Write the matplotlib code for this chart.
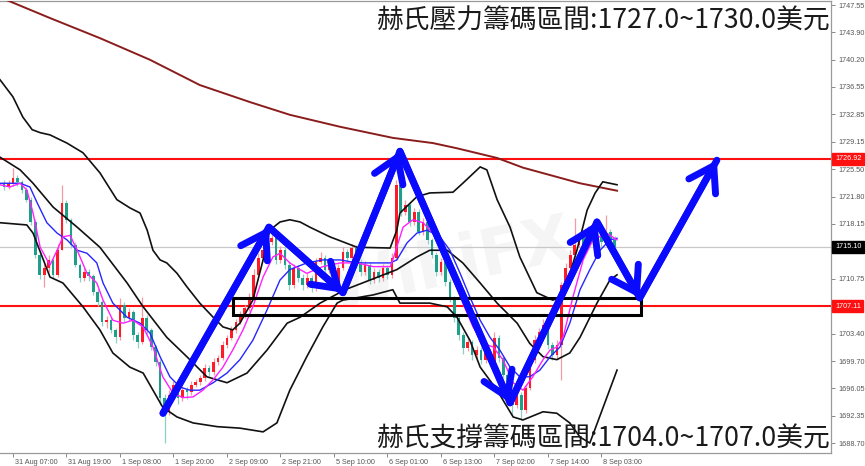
import matplotlib
matplotlib.use("Agg")
import numpy as np
import matplotlib.pyplot as plt
import matplotlib.transforms as mtransforms
from matplotlib.patches import Rectangle

# ── Hourly candles (bar index = position on the chart) ──────────
FIRST_OPEN = 1723.6
CLOSES = [
    1723.1, 1723.6, 1724.3, 1723.8, 1722.7, 1721.4, 1718.4, 1714.0, 1711.3, 1712.2,
    1713.3, 1711.3, 1714.6, 1721.0, 1718.7, 1715.3, 1712.6, 1710.9, 1711.7, 1711.1,
    1709.0, 1707.6, 1705.0, 1705.2, 1703.9, 1702.9, 1707.2, 1705.5, 1706.3, 1703.2,
    1702.3, 1705.5, 1703.9, 1701.6, 1699.6, 1694.8, 1692.9, 1695.2, 1696.5, 1694.8,
    1695.8, 1695.6, 1696.5, 1696.9, 1697.4, 1698.8, 1698.2, 1699.6, 1700.1, 1701.9,
    1702.8, 1703.9, 1705.0, 1705.9, 1706.8, 1708.2, 1711.3, 1713.6, 1714.6, 1715.7,
    1716.2, 1713.3, 1714.6, 1712.6, 1709.9, 1712.2, 1710.9, 1709.9, 1710.9, 1709.5,
    1713.0, 1713.6, 1712.0, 1712.6, 1709.9, 1712.2, 1714.4, 1713.6, 1714.9, 1713.0,
    1711.7, 1712.6, 1710.6, 1711.7, 1710.9, 1712.2, 1711.3, 1713.6, 1723.4, 1719.7,
    1720.7, 1718.4, 1719.7, 1717.1, 1718.4, 1716.0, 1714.0, 1711.7, 1713.0, 1710.3,
    1708.2, 1705.5, 1703.2, 1701.5, 1702.3, 1700.5, 1701.2, 1699.9, 1700.9, 1699.6,
    1702.8, 1700.1, 1697.8, 1695.6, 1693.8, 1695.2, 1693.1, 1696.1, 1699.9, 1702.5,
    1703.6, 1704.6, 1701.9, 1700.5, 1701.9, 1709.9, 1712.2, 1714.0, 1715.3, 1716.2,
    1715.3, 1717.1, 1716.0, 1716.6, 1715.7, 1717.1, 1716.0, 1715.1,
]
UPPER_WICK = [
    0.4, 0.5, 1.3, 0.4, 0.3, 0.4, 0.3, 0.4, 0.3, 0.5,
    0.6, 0.3, 0.8, 2.4, 0.4, 0.3, 0.4, 0.3, 0.5, 0.4,
    0.3, 0.4, 0.3, 0.6, 0.4, 0.3, 1.0, 0.4, 0.6, 0.3,
    0.4, 2.8, 0.4, 0.3, 0.3, 0.4, 0.5, 0.6, 0.5, 0.4,
    0.5, 0.4, 0.5, 0.4, 0.5, 0.5, 0.4, 0.5, 0.4, 0.5,
    0.4, 0.5, 0.4, 0.5, 0.4, 0.6, 0.8, 0.6, 0.5, 0.6,
    0.8, 0.5, 0.6, 0.4, 0.5, 0.6, 0.4, 0.5, 0.6, 0.4,
    0.6, 0.7, 0.4, 0.5, 0.4, 0.6, 0.7, 0.4, 0.6, 0.4,
    0.4, 0.5, 0.4, 0.5, 0.4, 0.6, 0.4, 0.6, 0.6, 0.5,
    0.6, 0.4, 0.6, 0.4, 0.5, 0.4, 0.3, 0.4, 0.6, 0.3,
    0.4, 0.3, 0.4, 0.4, 0.6, 0.3, 0.5, 0.4, 0.6, 0.4,
    0.8, 0.4, 0.3, 0.4, 0.3, 0.6, 0.4, 0.5, 0.6, 0.7,
    0.6, 0.8, 0.4, 0.4, 0.6, 0.5, 0.7, 0.6, 3.6, 0.8,
    0.5, 0.7, 0.4, 0.6, 0.4, 2.2, 0.4, 0.5,
]
LOWER_WICK = [
    0.4, 0.3, 0.4, 0.5, 0.4, 0.3, 0.4, 0.5, 0.6, 1.6,
    0.5, 0.4, 0.3, 0.0, 0.4, 0.4, 0.3, 0.5, 0.4, 0.6,
    0.4, 0.5, 0.6, 0.8, 0.4, 0.8, 0.3, 0.5, 0.4, 0.6,
    0.8, 0.3, 0.5, 0.4, 0.5, 1.0, 4.2, 0.5, 0.4, 0.8,
    0.4, 1.0, 0.4, 0.3, 0.4, 0.3, 0.5, 0.3, 0.4, 0.3,
    0.4, 0.3, 0.4, 0.3, 0.4, 0.3, 0.4, 0.3, 0.4, 0.3,
    0.4, 0.6, 0.4, 0.5, 0.6, 0.4, 0.5, 0.6, 0.4, 0.5,
    0.4, 0.3, 0.6, 0.4, 0.6, 0.4, 0.3, 0.5, 0.4, 0.5,
    0.5, 0.4, 0.6, 0.4, 0.5, 0.4, 0.5, 0.4, 0.3, 0.5,
    0.4, 0.5, 0.4, 0.5, 0.4, 0.5, 0.4, 0.6, 0.4, 0.5,
    0.6, 0.5, 0.6, 0.8, 0.4, 0.6, 0.5, 0.6, 0.4, 0.6,
    1.5, 0.5, 0.4, 0.5, 1.3, 0.4, 1.3, 0.4, 0.3, 0.4,
    0.3, 0.4, 0.5, 0.6, 0.5, 4.7, 0.4, 0.3, 0.4, 0.3,
    0.5, 0.4, 0.5, 0.4, 0.6, 0.4, 0.5, 0.4,
]

# ── Indicators as (bar, price) ─────────────────────────────────
MA_LONG = [(-0.9, 1748.6), (0.65, 1748.2), (10.3, 1745.8), (21.5, 1743.1), (32.7, 1740.2),
           (43.9, 1736.8), (55.2, 1734.5), (64.1, 1732.8), (75.3, 1731.2), (87.2, 1729.7),
           (96.2, 1729.0), (101.6, 1728.3), (110.6, 1727.0), (116.4, 1725.7),
           (129.2, 1723.6), (137.5, 1722.6)]
BB_UPPER = [(-0.9, 1737.5), (2.0, 1735.2), (4.2, 1732.5), (6.3, 1730.8), (8.1, 1730.4),
            (10.3, 1730.1), (14.1, 1729.0), (17.7, 1727.7), (21.5, 1725.0), (25.3, 1721.4),
            (28.2, 1720.3), (30.5, 1719.6), (32.1, 1717.3), (33.4, 1714.6), (35.0, 1713.3),
            (36.5, 1712.9), (38.8, 1711.5), (41.0, 1709.7), (43.9, 1707.5), (46.9, 1705.6),
            (49.1, 1704.3), (51.3, 1703.9), (52.9, 1704.8), (55.8, 1707.9), (58.1, 1713.3),
            (59.6, 1717.3), (61.9, 1718.4), (64.1, 1718.7), (66.4, 1718.4), (68.6, 1717.7),
            (73.1, 1716.4), (79.2, 1715.0), (86.6, 1714.9), (88.1, 1717.3), (88.8, 1719.6),
            (92.6, 1721.8), (95.5, 1722.3), (100.7, 1722.4), (102.9, 1723.6), (106.8, 1725.8),
            (108.3, 1725.4), (110.6, 1721.4), (113.5, 1717.7), (115.7, 1713.7), (119.5, 1708.9),
            (123.1, 1707.9), (124.7, 1708.3), (126.3, 1710.2), (128.5, 1714.6), (130.8, 1720.0),
            (132.6, 1722.3), (134.3, 1723.8), (137.5, 1723.4)]
BB_MIDDLE = [(-0.9, 1727.1), (3.6, 1725.4), (6.5, 1723.6), (11.0, 1720.4), (16.4, 1717.7),
             (21.5, 1715.0), (27.6, 1710.2), (31.2, 1707.0), (36.5, 1702.9), (41.0, 1700.3),
             (45.5, 1697.6), (50.0, 1696.8), (54.5, 1698.1), (59.0, 1701.2), (63.5, 1704.8),
             (66.4, 1705.6), (70.9, 1707.5), (76.5, 1709.3), (82.1, 1710.6), (88.1, 1712.0),
             (92.6, 1713.7), (95.5, 1714.6), (99.4, 1714.6), (102.9, 1712.9), (106.8, 1710.2),
             (110.6, 1707.5), (115.1, 1704.8), (117.9, 1702.1), (120.9, 1700.3), (124.0, 1699.9),
             (126.9, 1700.8), (129.2, 1702.9), (133.0, 1707.5), (135.9, 1710.6), (137.5, 1711.3)]
BB_LOWER = [(-0.9, 1718.3), (5.1, 1718.0), (6.5, 1716.9), (10.3, 1711.0), (13.2, 1710.2),
            (17.7, 1707.0), (21.5, 1703.9), (24.4, 1700.8), (28.2, 1698.9), (31.2, 1698.1),
            (33.4, 1695.8), (35.6, 1693.5), (38.8, 1692.2), (42.4, 1691.4), (47.8, 1690.9),
            (52.9, 1690.7), (58.1, 1690.2), (61.2, 1691.4), (64.1, 1695.8), (67.9, 1700.3),
            (71.5, 1704.3), (74.7, 1707.5), (76.0, 1707.9), (82.8, 1708.6), (87.2, 1709.3),
            (88.8, 1707.5), (95.5, 1707.5), (99.4, 1707.0), (101.6, 1705.6), (104.5, 1702.5),
            (106.8, 1698.9), (110.6, 1695.8), (114.2, 1692.2), (116.4, 1691.8), (120.9, 1692.9),
            (124.0, 1692.7), (126.9, 1691.4), (129.2, 1689.5), (131.4, 1688.7), (137.5, 1698.5)]
MA_FAST = [(-0.9, 1723.4), (1.3, 1723.1), (3.6, 1723.6), (5.1, 1722.7), (6.5, 1719.6),
           (8.1, 1715.0), (10.3, 1712.6), (11.9, 1714.6), (13.2, 1716.4), (14.8, 1716.6),
           (16.4, 1714.6), (18.6, 1711.5), (20.8, 1710.2), (22.2, 1707.9), (24.4, 1705.2),
           (26.7, 1704.8), (28.9, 1705.2), (31.2, 1704.3), (33.4, 1701.6), (35.6, 1697.6),
           (37.9, 1695.4), (40.1, 1694.8), (42.4, 1694.9), (44.6, 1695.8), (46.9, 1697.2),
           (49.1, 1698.9), (51.3, 1701.2), (53.6, 1703.9), (55.8, 1707.0), (58.1, 1711.0),
           (60.3, 1713.7), (61.9, 1714.2), (64.1, 1712.9), (66.4, 1712.0), (67.9, 1711.5),
           (71.5, 1712.4), (75.4, 1712.9), (79.2, 1712.9), (82.8, 1712.4), (86.6, 1712.4),
           (87.2, 1713.3), (89.5, 1717.7), (91.7, 1718.7), (94.0, 1718.3), (96.2, 1716.9),
           (98.5, 1714.2), (100.7, 1711.0), (102.9, 1707.5), (105.2, 1704.3), (107.4, 1702.1),
           (109.7, 1701.6), (111.9, 1699.9), (114.2, 1696.8), (116.4, 1695.8), (118.6, 1697.6),
           (120.9, 1699.9), (122.5, 1701.2), (124.0, 1701.6), (125.4, 1702.9), (127.6, 1708.3),
           (129.9, 1713.3), (132.1, 1716.0), (135.2, 1716.9), (137.5, 1716.0)]
MA_SLOW = [(-0.9, 1723.6), (3.6, 1723.6), (5.8, 1723.1), (7.4, 1721.0), (9.6, 1718.3),
           (11.9, 1716.9), (14.1, 1716.0), (16.4, 1714.6), (18.6, 1714.2), (20.8, 1712.9),
           (22.2, 1710.2), (24.4, 1707.5), (27.6, 1705.6), (30.5, 1704.8), (32.7, 1703.5),
           (35.0, 1700.3), (37.2, 1697.6), (39.5, 1696.2), (41.7, 1695.8), (43.9, 1695.8),
           (46.9, 1696.8), (50.0, 1698.1), (52.9, 1699.9), (55.8, 1702.5), (59.0, 1706.6),
           (61.9, 1710.6), (64.1, 1712.0), (67.9, 1712.9), (71.5, 1713.3), (75.4, 1713.3),
           (79.2, 1712.9), (86.6, 1712.9), (88.1, 1713.3), (90.4, 1715.6), (92.6, 1716.9),
           (94.9, 1717.3), (97.8, 1716.4), (100.0, 1714.6), (102.3, 1711.5), (104.5, 1708.3),
           (106.8, 1705.2), (109.0, 1702.9), (111.2, 1701.2), (113.5, 1698.9), (115.7, 1697.6),
           (117.9, 1697.6), (120.2, 1698.5), (122.5, 1700.3), (124.7, 1701.6), (126.9, 1704.8),
           (129.2, 1709.3), (131.4, 1712.0), (133.7, 1714.6), (135.9, 1716.0), (137.5, 1716.2)]

# ── Annotations ───────────────────────────────────────────────
RESIST_LEVEL = 1726.92
SUPPORT_LEVEL = 1707.11
LAST_PRICE = 1715.10
ZIGZAG = [(35.65, 1692.7), (59.4, 1717.7), (76.0, 1708.9), (88.8, 1727.9),
          (113.5, 1694.1), (133.0, 1718.4), (142.6, 1708.2), (159.9, 1726.7)]
ZONE_BARS = (51.35, 142.9)
ZONE_PRICES = (1705.9, 1708.2)
TEXT_TOP = "赫氏壓力籌碼區間:1727.0~1730.0美元"
TEXT_BOTTOM = "赫氏支撐籌碼區間:1704.0~1707.0美元"

# ── Axes labels ───────────────────────────────────────────────
Y_TICKS = [1747.55, 1743.90, 1740.20, 1736.55, 1732.85, 1729.15, 1725.50, 1721.80,
           1718.15, 1714.45, 1710.75, 1703.40, 1699.70, 1696.05, 1692.35, 1688.70]
X_TICK_BARS = [2, 14, 26, 38, 50, 62, 74, 86, 98, 110, 122, 134]
X_TICK_LABELS = ["31 Aug 07:00", "31 Aug 19:00", "1 Sep 08:00",
                 "1 Sep 20:00", "2 Sep 09:00", "2 Sep 21:00", "5 Sep 10:00",
                 "6 Sep 01:00", "6 Sep 13:00", "7 Sep 02:00", "7 Sep 14:00", "8 Sep 03:00"]

CJK = ["Noto Sans CJK TC", "DejaVu Sans"]
SMALL = ["Liberation Sans", "DejaVu Sans"]


def xy(points):
    return [p[0] for p in points], [p[1] for p in points]


fig = plt.figure(figsize=(8.65, 4.66), dpi=100)
ax = fig.add_axes([0.0, 13 / 466, 831 / 865, 452 / 466])

# levels
ax.axhline(LAST_PRICE, color="#c8c8c8", lw=0.9, zorder=1)
ax.axhline(RESIST_LEVEL, color="#ff1010", lw=1.5, zorder=1.2)
ax.axhline(SUPPORT_LEVEL, color="#ff1010", lw=1.5, zorder=1.2)

# watermark
ax.text(100, 1712.5, "WikiFX", fontsize=46, fontweight="bold", color="#e2e2e2",
        alpha=0.35, rotation=12, ha="center", va="center", zorder=0.5)

# candles
closes = np.array(CLOSES)
opens = np.r_[FIRST_OPEN, closes[:-1]]
bars = np.arange(len(closes))
highs = np.maximum(opens, closes) + np.array(UPPER_WICK)
lows = np.minimum(opens, closes) - np.array(LOWER_WICK)
up = closes >= opens
body_lo = np.minimum(opens, closes)
body_h = np.maximum(np.abs(closes - opens), 0.15)

ax.vlines(bars[up], lows[up], highs[up], colors="#f39aa3", lw=0.9, zorder=2)
ax.vlines(bars[~up], lows[~up], highs[~up], colors="#8fd0c6", lw=0.9, zorder=2)
ax.bar(bars[up], body_h[up], bottom=body_lo[up], width=0.6, color="#ff1a2a", lw=0, zorder=2.2)
ax.bar(bars[~up], body_h[~up], bottom=body_lo[~up], width=0.6, color="#1f9e8a", lw=0, zorder=2.2)

# indicators
ax.plot(*xy(MA_LONG), color="#8b1c1c", lw=1.4, zorder=3)
for band in (BB_UPPER, BB_MIDDLE, BB_LOWER):
    ax.plot(*xy(band), color="#111111", lw=1.2, zorder=3)
ax.plot(*xy(MA_SLOW), color="#2626ff", lw=1.0, zorder=3.2)
ax.plot(*xy(MA_FAST), color="#ff20ff", lw=1.0, zorder=3.3)

# zone box
ax.add_patch(Rectangle((ZONE_BARS[0], ZONE_PRICES[0]), ZONE_BARS[1] - ZONE_BARS[0],
                       ZONE_PRICES[1] - ZONE_PRICES[0], fill=False, ec="black",
                       lw=2.2, zorder=4))

# zigzag arrows
ax.plot(*xy(ZIGZAG), color="#0a0aff", lw=5, solid_capstyle="round",
        solid_joinstyle="round", zorder=5)
for start, end in zip(ZIGZAG[:-1], ZIGZAG[1:]):
    ax.annotate("", xy=end, xytext=start, zorder=5,
                arrowprops=dict(arrowstyle="->,head_length=0.85,head_width=0.55",
                                color="#0a0aff", lw=5, mutation_scale=20,
                                shrinkA=0, shrinkB=0))

# headline texts
ax.text(0.999, 0.956, TEXT_TOP, transform=ax.transAxes, ha="right", va="center",
        fontsize=19.3, color="#1a1a1a", family=CJK, zorder=6)
ax.text(0.999, 0.03, TEXT_BOTTOM, transform=ax.transAxes, ha="right", va="center",
        fontsize=19.3, color="#1a1a1a", family=CJK, zorder=6)

# axes styling
for side in ("top", "right", "bottom"):
    ax.spines[side].set_color("#9a9a9a")
    ax.spines[side].set_linewidth(0.9)
ax.spines["left"].set_visible(False)

ax.yaxis.tick_right()
ax.set_yticks(Y_TICKS)
ax.set_yticklabels([f"{v:.2f}" for v in Y_TICKS], family=SMALL)
ax.tick_params(axis="y", length=3, width=0.6, color="#777777", pad=2,
               labelsize=5.2, labelcolor="#555555")

ax.set_xticks(X_TICK_BARS)
ax.set_xticklabels(X_TICK_LABELS, ha="left", family=SMALL)
ax.tick_params(axis="x", length=3, width=0.6, color="#777777", pad=1,
               labelsize=5.2, labelcolor="#555555")
shift = mtransforms.ScaledTranslation(2 / 100, 0, fig.dpi_scale_trans)
for lab in ax.get_xticklabels():
    lab.set_transform(lab.get_transform() + shift)

# set limits last: set_xticks would otherwise widen the view
ax.set_xlim(-0.915, 185.5)
ax.set_ylim(1687.36, 1748.09)

# price tags on the right scale
tag_tr = mtransforms.blended_transform_factory(ax.transAxes, ax.transData)
for price, bg in ((RESIST_LEVEL, "#ff1010"), (SUPPORT_LEVEL, "#ff1010"), (LAST_PRICE, "#000000")):
    ax.text(1.0 + 4 / 831, price, f"{price:.2f}", transform=tag_tr, ha="left", va="center",
            fontsize=5.2, family=SMALL, color="white", clip_on=False, zorder=10,
            bbox=dict(boxstyle="square,pad=0.35", fc=bg, ec=bg))

fig.savefig("out.png", dpi=100)
